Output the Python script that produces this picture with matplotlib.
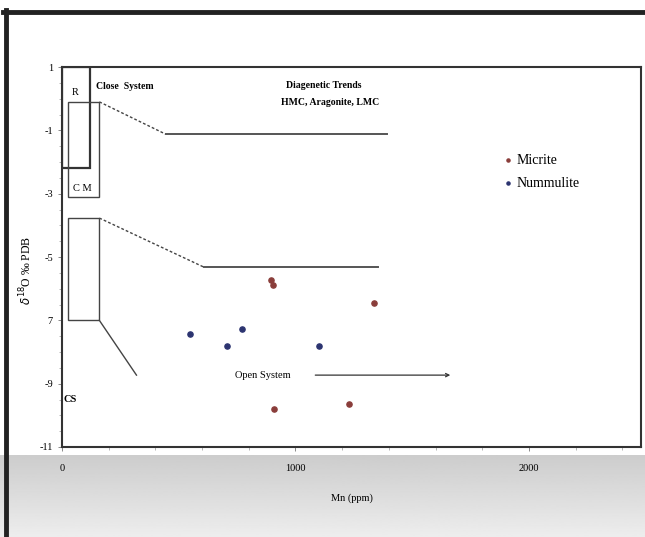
import numpy as np
import matplotlib
matplotlib.use('agg')
import matplotlib.pyplot as plt
from matplotlib.patches import Rectangle

plt.rcParams['font.family'] = ['Liberation Serif', 'DejaVu Serif']

# data
micrite_mn = [895, 905, 1336, 909, 1228]
micrite_o = [-5.72, -5.88, -6.45, -9.8, -9.64]
numm_mn = [547, 707, 772, 1099]
numm_o = [-7.43, -7.81, -7.27, -7.81]

y_ticks = [1, -1, -3, -5, -7, -9, -11]
y_tick_labels = ['1', '-1', '-3', '-5', '7', '-9', '-11']
x_ticks = [0, 1000, 2000]
x_tick_labels = ['0', '1000', '2000']

fig = plt.figure(figsize=(6.45, 5.37), dpi=100)

# grey gradient band at the bottom of the screenshot
bg = fig.add_axes([0.0, 0.0, 1.0, 0.153])
grad = np.linspace(0.80, 0.93, 100).reshape(-1, 1)
bg.imshow(grad, aspect='auto', cmap='gray', vmin=0, vmax=1, extent=[0, 1, 0, 1], origin='upper')
bg.set_axis_off()

# dark frame lines of the screenshot
fig.add_artist(plt.Line2D([0.009, 0.009], [0, 0.982], color='#222222', lw=3.5))
fig.add_artist(plt.Line2D([0.005, 1.0], [0.978, 0.978], color='#222222', lw=3.5))

ax = fig.add_axes([0.0961, 0.1676, 0.8977, 0.7076])
ax.set_xlim(0, 2480)
ax.set_ylim(-11, 1)

ax.scatter(micrite_mn, micrite_o, s=14, color='#8a3d3a', zorder=3, label='Micrite')
ax.scatter(numm_mn, numm_o, s=14, color='#2c3470', zorder=3, label='Nummulite')

# boxes
ax.add_patch(Rectangle((0, -2.2), 120, 3.2, fill=False, ec='#333333', lw=1.6))
ax.add_patch(Rectangle((26, -3.1), 134, 3.0, fill=False, ec='#444444', lw=1.0))
ax.add_patch(Rectangle((26, -7.0), 134, 3.23, fill=False, ec='#444444', lw=1.0))

# trend lines
ax.plot([160, 444], [-0.1, -1.12], color='#444444', lw=1.0, ls=(0, (2, 1.5)))
ax.plot([444, 1392], [-1.12, -1.12], color='#555555', lw=1.4)
ax.plot([160, 608], [-3.77, -5.32], color='#444444', lw=1.0, ls=(0, (2, 1.5)))
ax.plot([608, 1353], [-5.32, -5.32], color='#555555', lw=1.4)
ax.plot([160, 319], [-7.0, -8.73], color='#444444', lw=1.0)
ax.annotate('', xy=(1675, -8.73), xytext=(1073, -8.73),
            arrowprops=dict(arrowstyle='->', color='#333333', lw=0.9, mutation_scale=6))

# labels inside the plot
ax.text(55, 0.18, 'R', fontsize=7.5, ha='center', va='center')
ax.text(88, -2.85, 'C M', fontsize=7.5, ha='center', va='center')
ax.text(147, 0.37, 'Close  System', fontsize=7, ha='left', va='center', fontweight='bold')
ax.text(1120, 0.42, 'Diagenetic Trends', fontsize=7, ha='center', va='center', fontweight='bold')
ax.text(1150, -0.12, 'HMC, Aragonite, LMC', fontsize=7, ha='center', va='center', fontweight='bold')
ax.text(34, -9.5, 'CS', fontsize=7.5, ha='center', va='center', fontweight='bold')
ax.text(862, -8.73, 'Open System', fontsize=7.5, ha='center', va='center')

ax.legend(loc='upper left', bbox_to_anchor=(0.737, 0.805), frameon=False, fontsize=10,
          handletextpad=0.1, markerscale=0.6, labelspacing=0.75, handlelength=1.0)

ax.set_yticks(y_ticks)
ax.set_yticklabels(y_tick_labels)
ax.set_xticks(x_ticks)
ax.set_xticklabels(x_tick_labels)
ax.set_yticks(np.arange(-11, 1.1, 0.5), minor=True)
ax.set_xticks(np.arange(0, 2481, 200), minor=True)
ax.tick_params(axis='both', labelsize=7.5, color='#777777', length=3, width=0.6)
ax.tick_params(axis='x', pad=9)
ax.tick_params(which='minor', length=2, width=0.5, color='#999999')
for sp in ax.spines.values():
    sp.set_color('#333333')
    sp.set_linewidth(1.5)

ax.set_xlabel('Mn (ppm)', fontsize=7.5, labelpad=15)
ax.set_ylabel('$\\delta^{18}$O ‰ PDB', fontsize=8.5, labelpad=4)
ax.yaxis.set_label_coords(-0.048, 0.465)

fig.savefig('out.png', dpi=100)
